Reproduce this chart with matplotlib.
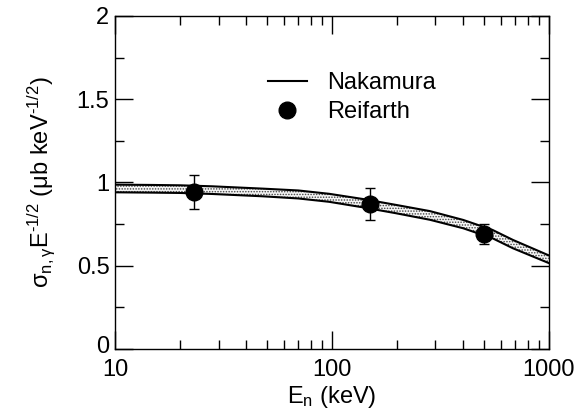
import numpy as np
import matplotlib
matplotlib.use('Agg')
import matplotlib.pyplot as plt
import matplotlib.transforms as mtransforms
from matplotlib.ticker import MultipleLocator, FixedLocator, NullFormatter

plt.rcParams['font.family'] = ['Liberation Sans', 'DejaVu Sans']
plt.rcParams['mathtext.fontset'] = 'custom'
plt.rcParams['mathtext.rm'] = 'Liberation Sans'
plt.rcParams['mathtext.it'] = 'Liberation Sans'
plt.rcParams['hatch.color'] = '#444444'
plt.rcParams['hatch.linewidth'] = 0.7

#%% data
# Nakamura band (upper / lower edge)
band_e = [10, 15, 20, 28, 48, 70, 97, 140, 198, 283, 403, 550, 683, 1000]
band_hi = [0.987, 0.985, 0.983, 0.977, 0.963, 0.952, 0.932, 0.900, 0.865, 0.828,
           0.775, 0.715, 0.655, 0.562]
band_lo = [0.941, 0.939, 0.937, 0.931, 0.917, 0.904, 0.884, 0.850, 0.815, 0.776,
           0.725, 0.665, 0.605, 0.516]

# Reifarth points
reif_e = [23, 150, 500]
reif_y = [0.943, 0.871, 0.692]
reif_err_lo = [0.10, 0.095, 0.06]
reif_err_hi = [0.10, 0.095, 0.06]

#%%
fig = plt.figure(figsize=(5.87, 4.19), dpi=100)
ax = fig.add_axes([0.196, 0.167, 0.739, 0.795])

ax.fill_between(band_e, band_lo, band_hi, facecolor='#f4f4f4', edgecolor='none',
                hatch='......', zorder=1)
ax.plot(band_e, band_hi, color='black', lw=1.5, zorder=2, label='Nakamura')
ax.plot(band_e, band_lo, color='black', lw=1.5, zorder=2)

ax.errorbar(reif_e, reif_y, yerr=[reif_err_lo, reif_err_hi], fmt='none',
            ecolor='black', elinewidth=1.0, capsize=3.4, capthick=1.0, zorder=3)
ax.plot(reif_e, reif_y, 'o', color='black', ms=12, ls='none', zorder=4,
        label='Reifarth')

ax.set_xscale('log')
ax.set_xlim(10, 1000)
ax.set_ylim(0, 2)
ax.yaxis.set_major_locator(FixedLocator([0, 0.5, 1, 1.5, 2]))
ax.set_yticklabels(['0', '0.5', '1', '1.5', '2'])
ax.yaxis.set_minor_locator(MultipleLocator(0.25))
ax.xaxis.set_major_locator(FixedLocator([10, 100, 1000]))
ax.set_xticklabels(['10', '100', '1000'])
minors = [m * d for d in (10, 100) for m in range(2, 10)]
ax.xaxis.set_minor_locator(FixedLocator(minors))
ax.xaxis.set_minor_formatter(NullFormatter())

ax.tick_params(which='both', direction='in', top=True, right=True,
               labelsize=17, width=1.0)
ax.tick_params(which='major', length=13, pad=4)
ax.tick_params(axis='x', which='major', pad=7)
ax.tick_params(which='minor', length=6.5)
for s in ax.spines.values():
    s.set_linewidth(1.0)

# nudge the y "0" up a little so it doesn't sit on the x "10"
lab0 = ax.get_yticklabels()[0]
lab0.set_transform(lab0.get_transform() +
                   mtransforms.ScaledTranslation(0, 3 / 72, fig.dpi_scale_trans))

ax.set_xlabel(r'E$_\mathregular{n}$ (keV)', fontsize=17, labelpad=2)
ax.set_ylabel(r'$\mathregular{\sigma_{n,\gamma}E^{‐1/2}}$ ($\mathregular{\mu}$b keV$^\mathregular{‐1/2}$)',
              fontsize=17, labelpad=14)

ax.legend(loc='upper left', bbox_to_anchor=(0.33, 0.86), frameon=False,
          fontsize=17, handlelength=1.65, handletextpad=0.85,
          labelspacing=0.3, borderaxespad=0, numpoints=1)

fig.savefig('out.png', dpi=100)
